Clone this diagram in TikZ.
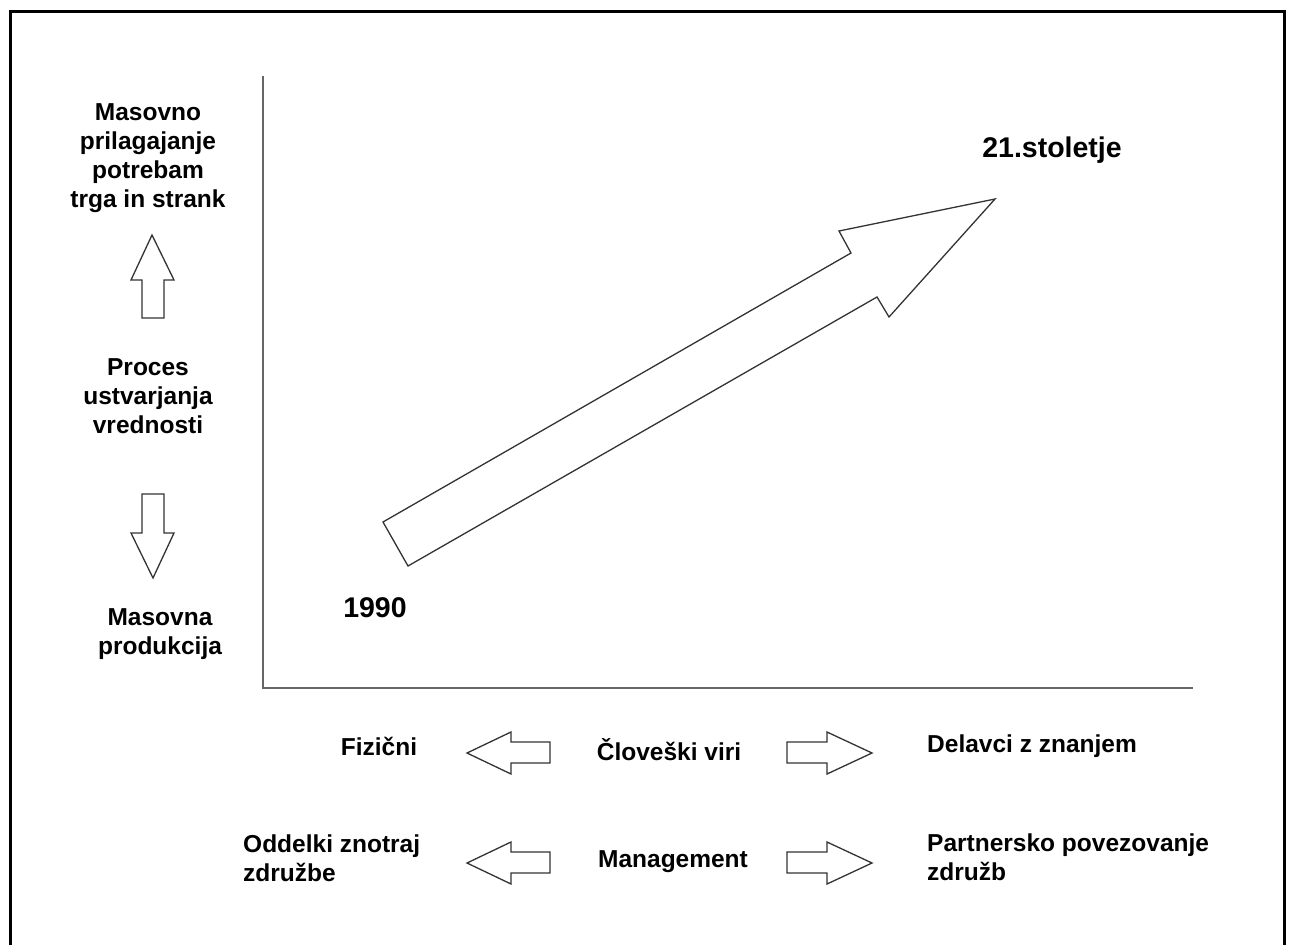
\documentclass[tikz,border=0pt]{standalone}
\usepackage{fontspec}
\setmainfont{Liberation Sans}

\begin{document}
\begin{tikzpicture}[
        x=1pt, y=-1pt,
        lbl/.style={font=\fontsize{24.5}{29}\selectfont\bfseries, align=center, inner sep=0pt},
        lbll/.style={lbl, align=left, anchor=west},
        year/.style={font=\fontsize{28.5}{34}\selectfont\bfseries, inner sep=0pt},
        axis/.style={draw=black!60, line width=2pt},
        outline/.style={draw=black!80, line width=1.3pt, line join=miter}
    ]
        \useasboundingbox (0,0) rectangle (1290,945);

        % Frame
        \draw[line width=3pt] (10,945) -- (10,11) -- (1284,11) -- (1284,945);

        % Axes
        \coordinate (ytop) at (263,76);
        \coordinate (origin) at (263,688);
        \coordinate (xend) at (1193,688);
        \draw[axis] (ytop) -- (origin) -- (xend);

        % Left column
        \node[lbl] (custom) at (148,158) {Masovno\\prilagajanje\\potrebam\\trga in strank};
        \node[lbl] (process) at (148,396) {Proces\\ustvarjanja\\vrednosti};
        \node[lbl] (massprod) at (160,634) {Masovna\\produkcija};

        % Up and down arrows
        \draw[outline] (152,235) -- (174,280) -- (164,280) -- (164,318) -- (142,318)
            -- (142,280) -- (131,280) -- cycle;
        \draw[outline] (153,578) -- (174,533) -- (164,533) -- (164,494) -- (142,494)
            -- (142,533) -- (131,533) -- cycle;

        % Trend arrow
        \node[year] (start) at (375,608) {1990};
        \node[year] (finish) at (1052,150) {21.stoletje};
        \draw[outline] (383,522) -- (851,253) -- (839,231) -- (995,199) -- (889,317)
            -- (877,297) -- (408,566) -- cycle;

        % Human resources row
        \node[lbl] (phys) at (379,746) {Fizični};
        \node[lbl] (hr) at (669,750) {Človeški viri};
        \node[lbll] (know) at (927,746) {Delavci z znanjem};
        \draw[outline] (467,753) -- (511,732) -- (511,742) -- (550,742) -- (550,763)
            -- (511,763) -- (511,774) -- cycle;
        \draw[outline] (872,753) -- (827,732) -- (827,742) -- (787,742) -- (787,763)
            -- (827,763) -- (827,774) -- cycle;

        % Management row
        \node[lbll] (dept) at (243,858) {Oddelki znotraj\\združbe};
        \node[lbl] (mgmt) at (673,862) {Management};
        \node[lbll] (partner) at (927,857) {Partnersko povezovanje\\združb};
        \draw[outline] (467,863) -- (511,842) -- (511,852) -- (550,852) -- (550,873)
            -- (511,873) -- (511,884) -- cycle;
        \draw[outline] (872,863) -- (827,842) -- (827,852) -- (787,852) -- (787,873)
            -- (827,873) -- (827,884) -- cycle;
    \end{tikzpicture}
\end{document}
